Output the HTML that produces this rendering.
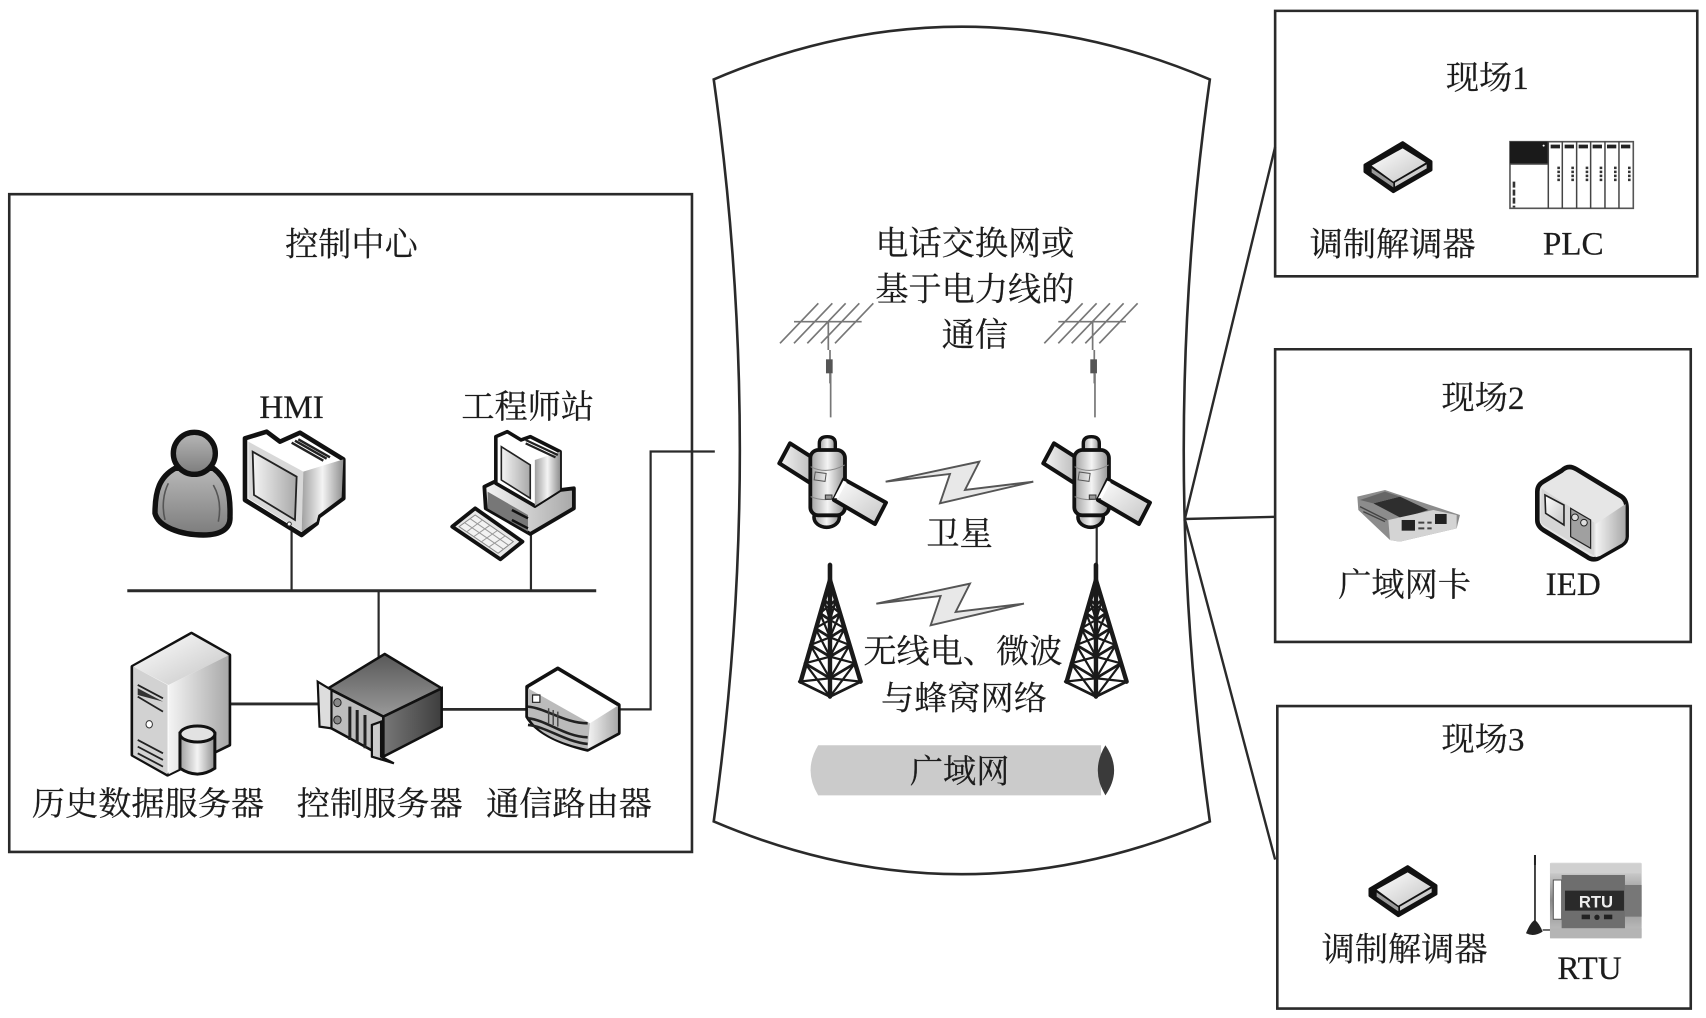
<!DOCTYPE html>
<html lang="zh"><head><meta charset="utf-8"><title>diagram</title>
<style>
html,body{margin:0;padding:0;background:#fff}
svg{display:block}
path,line,rect,ellipse,polygon,polyline,circle{vector-effect:non-scaling-stroke}
text{font-family:"Liberation Serif","Noto Serif CJK SC",serif;font-size:30.5px;fill:#1c1c1c;text-anchor:middle;stroke:#1c1c1c;stroke-width:.2px}
</style></head><body>
<svg width="1706" height="1018" viewBox="0 0 1706 1018" xmlns="http://www.w3.org/2000/svg">
<defs>
<linearGradient id="g1" x1="0" y1="0" x2="1" y2="1"><stop offset="0" stop-color="#fff"/><stop offset="1" stop-color="#c4c4c4"/></linearGradient>
<linearGradient id="g2" x1="0" y1="0" x2="1" y2="0"><stop offset="0" stop-color="#f4f4f4"/><stop offset="1" stop-color="#a8a8a8"/></linearGradient>
<linearGradient id="g3" x1="0" y1="0" x2="1" y2="0"><stop offset="0" stop-color="#a0a0a0"/><stop offset=".5" stop-color="#f4f4f4"/><stop offset="1" stop-color="#909090"/></linearGradient>
<linearGradient id="gp" x1="0" y1="0" x2="0" y2="1"><stop offset="0" stop-color="#b8b8b8"/><stop offset="1" stop-color="#7c7c7c"/></linearGradient>
<linearGradient id="gd" x1="0" y1="0" x2="0" y2="1"><stop offset="0" stop-color="#585858"/><stop offset="1" stop-color="#9a9a9a"/></linearGradient>
<linearGradient id="gr" x1="0" y1="0" x2="1" y2="0"><stop offset="0" stop-color="#777"/><stop offset="1" stop-color="#3e3e3e"/></linearGradient>
<linearGradient id="gm" x1="0" y1="0" x2="0" y2="1"><stop offset="0" stop-color="#e0e0e0"/><stop offset=".5" stop-color="#8a8a8a"/><stop offset="1" stop-color="#c8c8c8"/></linearGradient>
<g id="tower" fill="none" stroke="#1a1a1a" stroke-linecap="round">
 <path d="M390,855V950" stroke-width="4.6"/>
 <path d="M390,900L302,1205M390,900L482,1205M390,900V1250" stroke-width="4.4"/>
 <path d="M372,960L390,975L408,960M360,1000L390,1020L420,1000M346,1045L390,1072L434,1045M331,1095L390,1130L449,1095M315,1150L390,1195L465,1150M298,1205L390,1250L482,1205" stroke-width="2.8"/>
 <path d="M372,960L390,1020L408,960M360,1000L390,1072L420,1000M346,1045L390,1130L434,1045M331,1095L390,1195L449,1095M315,1150L390,1250L465,1150M360,1000L390,975L420,1000M346,1045L390,1020L434,1045M331,1095L390,1072L449,1095M315,1150L390,1130L465,1150M298,1205L390,1195L482,1205" stroke-width="2.2"/>
</g>
<g id="sat">
 <polygon points="270,490 238,550 340,615 372,555" fill="url(#g2)" stroke="#111" stroke-width="4" stroke-linejoin="round"/>
 <path d="M358,512V490Q358,470 382,470Q406,470 406,490V512Z" fill="url(#g3)" stroke="#111" stroke-width="3.4"/>
 <ellipse cx="380" cy="712" rx="38" ry="30" fill="url(#g3)" stroke="#111" stroke-width="3.6"/>
 <rect x="331" y="510" width="104" height="196" rx="24" fill="url(#g3)" stroke="#111" stroke-width="3.8"/>
 <path d="M332,560Q380,585 434,555M332,650Q380,670 434,645" fill="none" stroke="#888" stroke-width="1"/>
 <rect x="344" y="578" width="33" height="24" fill="none" stroke="#555" stroke-width="1" transform="rotate(8 360 590)"/>
 <rect x="376" y="645" width="20" height="13" fill="#999" stroke="#333" stroke-width="1"/>
 <polygon points="402,660 432,598 558,668 525,732" fill="url(#g1)" stroke="#111" stroke-width="4" stroke-linejoin="round"/>
 <polygon points="402,655 430,602 440,606 414,655" fill="#fff"/>
</g>
<g id="yagi" fill="none" stroke="#777" stroke-width="1.7">
 <path d="M282,125H485M355,70L240,190M397,70L282,190M437,70L322,190M478,70L363,190M520,70L405,190M385,125V210"/>
 <path d="M390,210V310M392,280V412"/>
 <rect x="378" y="238" width="20" height="42" fill="#555" stroke="none"/>
</g>
<path id="bolt" d="M557,605L838,545L795,630L1000,605L720,670L750,582Z" fill="#e8e8e8" stroke="#555" stroke-width="1.9"/>
<g id="modem">
 <path d="M428,428L315,495V515L400,575L513,510V485Z" fill="#111" stroke="#111" stroke-width="3" stroke-linejoin="round"/>
 <polygon points="428,445 335,497 400,545 497,488" fill="url(#g1)"/>
 <polygon points="335,505 400,550 400,562 335,518" fill="#999"/>
 <polygon points="405,548 500,493 500,505 405,560" fill="#ccc"/>
</g>
</defs>
<rect width="1706" height="1018" fill="#fff"/>

<g transform="scale(1.088)">
<g fill="none" stroke="#2a2a2a">
 <rect x="8.5" y="178.5" width="627.5" height="604.5" stroke-width="2.6"/>
 <rect x="1172" y="10" width="388" height="244" stroke-width="2.6"/>
 <rect x="1172" y="321" width="382" height="269" stroke-width="2.6"/>
 <rect x="1174" y="649" width="380" height="278" stroke-width="2.6"/>
 <path d="M656,73Q884,-24 1112,73Q1064,414 1112,755Q884,852 656,755Q704,414 656,73Z" stroke-width="2.6"/>
 <path d="M657,415H598V652H568" stroke-width="2.2"/>
 <path d="M1172,135L1089,477L1172,475M1089,477L1172,790" stroke-width="2.4"/>
 <path d="M117,543H548" stroke-width="3"/>
 <path d="M268,488V543M488,488V543M348,543V606" stroke-width="2.2"/>
 <path d="M212,647H295M405,652H485" stroke-width="2.8"/>
 <path d="M1008,484V530" stroke-width="2.2"/>
</g>
<path d="M752,685H1012V731H752Q738,708 752,685Z" fill="#cbcbcb"/>
<path d="M1016,685Q1032,708 1016,731Q1002,708 1016,685Z" fill="#3a3a3a"/>
</g>

<!-- person & HMI monitor -->
<g transform="translate(100,420) scale(.3333)">
 <path d="M225,145C180,170 165,210 165,280C175,320 240,345 310,345C365,345 392,325 390,290C392,215 380,175 340,145Z" fill="url(#gp)" stroke="#111" stroke-width="5.4" stroke-linejoin="round"/>
 <path d="M205,190C190,220 185,260 195,300M340,195C360,230 362,270 355,305" fill="none" stroke="#555" stroke-width="1.6"/>
 <circle cx="283" cy="100" r="63" fill="url(#gp)" stroke="#111" stroke-width="5.4"/>
 <path d="M435,55L500,35L540,65L600,38L730,118V235L655,290L650,310L605,345L435,240Z" fill="#fff" stroke="#111" stroke-width="4.6" stroke-linejoin="round"/>
 <polygon points="445,65 610,155 605,335 445,235" fill="#d8d8d8"/>
 <polygon points="458,95 590,170 585,300 462,225" fill="url(#g2)" stroke="#222" stroke-width="1.8"/>
 <polygon points="610,155 730,118 725,232 655,285 650,305 605,335" fill="url(#g3)"/>
 <path d="M575,68L670,122M585,62L680,116M595,58L690,112" stroke="#222" stroke-width="2.4" fill="none"/>
 <circle cx="568" cy="312" r="6" fill="#fff" stroke="#333" stroke-width="1"/>
</g>

<!-- other control center icons -->
<g transform="translate(0,380) scale(.4591,.3333)">
 <path d="M1055,320L1085,300L1165,378L1220,330L1250,325V385L1155,462L1058,385Z" fill="url(#g2)" stroke="#111" stroke-width="3.8" stroke-linejoin="round"/>
 <path d="M1062,335L1150,405V455L1062,385Z" fill="#777"/>
 <path d="M1115,390L1150,415M1115,420L1150,445" stroke="#111" stroke-width="2.5"/>
 <path d="M1080,170L1105,155L1135,180L1155,170L1220,215V330L1165,378L1080,310Z" fill="#fff" stroke="#111" stroke-width="3.6" stroke-linejoin="round"/>
 <polygon points="1165,240 1220,215 1220,330 1165,378" fill="url(#g3)"/>
 <polygon points="1092,200 1155,255 1155,355 1092,300" fill="url(#g2)" stroke="#222" stroke-width="1.6"/>
 <path d="M1145,180L1215,225M1145,190L1210,232" stroke="#222" stroke-width="2.2"/>
 <path d="M985,440L1035,385L1138,485L1090,538Z" fill="#e8e8e8" stroke="#111" stroke-width="3.8" stroke-linejoin="round"/>
 <path d="M1000,440L1035,405L1118,485L1085,520Z" fill="#f2f2f2" stroke="#888" stroke-width="1"/>
 <path d="M1012,428L1097,508M1024,416L1108,496M1016,456L1051,420M1032,470L1067,436M1048,486L1083,452M1064,502L1100,468" stroke="#999" stroke-width="1" fill="none"/>
 <path d="M417,760L288,860V1125L365,1185L500,1095V825Z" fill="#fff" stroke="#111" stroke-width="3.4" stroke-linejoin="round"/>
 <polygon points="417,763 290,860 367,915 498,826" fill="url(#g1)"/>
 <polygon points="367,915 498,826 498,1093 367,1183" fill="url(#g2)"/>
 <polygon points="290,860 365,915 365,1183 290,1125" fill="#d2d2d2"/>
 <path d="M300,915L355,955M300,950L355,995M300,1080L355,1120M300,1100L355,1140M300,1120L355,1160" stroke="#222" stroke-width="1.8"/>
 <path d="M300,925L355,965L300,945Z" fill="#333"/>
 <ellipse cx="325" cy="1033" rx="7" ry="11" fill="#fff" stroke="#333" stroke-width="1"/>
 <path d="M392,1060V1165Q430,1200 468,1165V1060Z" fill="url(#g3)" stroke="#111" stroke-width="3"/>
 <ellipse cx="430" cy="1062" rx="38" ry="24" fill="#e2e2e2" stroke="#111" stroke-width="3"/>
 <polygon points="838,822 715,925 835,1010 962,925" fill="url(#gd)" stroke="#111" stroke-width="2.6" stroke-linejoin="round"/>
 <polygon points="715,925 835,1010 835,1130 715,1040" fill="#bdbdbd" stroke="#111" stroke-width="2.6"/>
 <polygon points="835,1010 962,925 962,1040 835,1130" fill="url(#gr)" stroke="#111" stroke-width="2.6"/>
 <path d="M692,905L722,930V1045L696,1040Z" fill="#ddd" stroke="#111" stroke-width="2.2"/>
 <path d="M810,1035L830,1025V1130L858,1150L810,1130Z" fill="#ccc" stroke="#111" stroke-width="2.2"/>
 <path d="M762,980V1080M778,990V1090M795,1005V1105" stroke="#222" stroke-width="3"/>
 <ellipse cx="735" cy="968" rx="8" ry="12" fill="#888" stroke="#222" stroke-width="1"/>
 <ellipse cx="735" cy="1020" rx="8" ry="12" fill="#888" stroke="#222" stroke-width="1"/>
 <path d="M1215,865L1148,920V1010C1170,1060 1220,1090 1280,1110L1348,1060V975Z" fill="#fff" stroke="#111" stroke-width="3.6" stroke-linejoin="round"/>
 <polygon points="1285,1030 1346,977 1346,1058 1280,1107" fill="url(#g2)"/>
 <path d="M1150,925L1285,1030L1280,1107C1220,1090 1170,1060 1150,1008Z" fill="#bbb"/>
 <path d="M1150,980C1190,985 1230,1030 1280,1030M1150,1015C1190,1020 1230,1070 1280,1072M1150,1035C1190,1040 1230,1085 1280,1092" fill="none" stroke="#222" stroke-width="2.6"/>
 <rect x="1160" y="945" width="16" height="22" fill="#fff" stroke="#222" stroke-width="1.2"/>
 <path d="M1195,985V1030M1205,990V1035M1215,995V1040" stroke="#444" stroke-width="1.4"/>
</g>

<!-- center icons -->
<g transform="translate(700,280) scale(.3333)">
 <use href="#yagi"/><use href="#yagi" transform="translate(793,0)"/>
 <use href="#sat"/><use href="#sat" transform="translate(792,0)"/>
 <use href="#bolt"/><use href="#bolt" transform="translate(-28,366)"/>
 <use href="#tower"/><use href="#tower" transform="translate(798,0)"/>
</g>

<!-- site 1 -->
<g transform="translate(1260,0) scale(.3333)">
 <use href="#modem"/>
 <rect x="750" y="425" width="370" height="200" fill="#fff" stroke="#555" stroke-width="1.6"/>
 <rect x="750" y="425" width="115" height="67" fill="#1a1a1a"/>
 <path d="M750,492H865M865,425V625M907,425V625M950,425V625M992,425V625M1035,425V625M1077,425V625" stroke="#444" stroke-width="1.5" fill="none"/>
 <circle cx="851" cy="437" r="3" fill="#fff"/>
 <path d="M872,434h28v11h-28zM914,434h28v11h-28zM956,434h28v11h-28zM998,434h28v11h-28zM1041,434h28v11h-28zM1083,434h28v11h-28z" fill="#222"/>
 <path d="M896,500V548M938,500V548M981,500V548M1023,500V548M1066,500V548M1108,500V548" stroke="#333" stroke-width="2.6" stroke-dasharray="2.5 1.5" fill="none"/>
 <path d="M762,545V622" stroke="#333" stroke-width="2.6" stroke-dasharray="6 2" fill="none"/>
</g>

<!-- site 2 -->
<g transform="translate(1260,340) scale(.3333)">
 <polygon points="292,470 375,450 600,525 590,565 420,605 390,600 295,510" fill="#8c8c8c"/>
 <polygon points="340,490 420,470 505,510 425,535" fill="#2e2e2e"/>
 <polygon points="300,480 375,455 420,470 340,490" fill="#666"/>
 <path d="M300,500L380,540M310,515L375,545" stroke="#444" stroke-width="1.4"/>
 <polygon points="385,540 520,510 590,525 590,565 420,605 390,600" fill="#d4d4d4"/>
 <rect x="425" y="540" width="40" height="32" fill="#222"/>
 <rect x="525" y="522" width="35" height="30" fill="#222"/>
 <path d="M475,548h40M475,565h40" stroke="#444" stroke-width="2" stroke-dasharray="6 3"/>
 <path d="M905,392Q925,372 950,388L1085,470Q1100,480 1100,505V590Q1100,605 1085,615L1020,652Q1000,665 980,650L850,570Q832,558 832,540V455Q832,435 850,425Z" fill="#e6e6e6" stroke="#111" stroke-width="4.6" stroke-linejoin="round"/>
 <path d="M845,445L1003,548V648L850,555Q842,550 842,540Z" fill="#d6d6d6"/>
 <path d="M1007,552L1097,492V590Q1097,603 1085,611L1020,648L1007,652Z" fill="url(#g2)"/>
 <polygon points="855,465 912,495 912,555 857,520" fill="url(#g1)" stroke="#222" stroke-width="1.6"/>
 <polygon points="932,505 992,540 992,625 932,590" fill="#a0a0a0" stroke="#222" stroke-width="1.2"/>
 <circle cx="945" cy="532" r="10" fill="#ddd" stroke="#222" stroke-width="1"/>
 <circle cx="972" cy="548" r="10" fill="#ddd" stroke="#222" stroke-width="1"/>
</g>

<!-- site 3 -->
<g transform="translate(1260,700) scale(.3333)">
 <use href="#modem" transform="translate(15,72)"/>
 <rect x="870" y="488" width="275" height="227" rx="4" fill="url(#gm)"/>
 <rect x="870" y="490" width="275" height="30" fill="#d0d0d0"/>
 <rect x="880" y="540" width="25" height="118" fill="#fff" stroke="#555" stroke-width="1"/>
 <rect x="905" y="525" width="190" height="160" fill="#6e6e6e"/>
 <rect x="1095" y="555" width="50" height="95" fill="#777"/>
 <rect x="915" y="572" width="177" height="60" fill="#2a2a2a"/>
 <text x="1008" y="622" style="font-family:'Liberation Sans',sans-serif;font-weight:bold;font-size:50px;fill:#eee;stroke:none">RTU</text>
 <path d="M965,644h25v14h-25zM1032,644h25v14h-25z" fill="#222"/>
 <circle cx="1011" cy="652" r="8" fill="#222"/>
 <rect x="870" y="685" width="275" height="30" fill="#b4b4b4"/>
 <path d="M825,465V670" stroke="#333" stroke-width="1.8"/>
 <rect x="822" y="465" width="6" height="30" fill="#222"/>
 <path d="M798,700Q812,665 825,660Q838,670 848,695Q822,712 798,700Z" fill="#222"/>
 <path d="M848,690H870" stroke="#333" stroke-width="1.4"/>
</g>

<!-- labels -->
<g transform="scale(1.088)">
<text x="323" y="235">控制中心</text>
<text x="268" y="384">HMI</text>
<text x="485" y="384">工程师站</text>
<text x="136" y="749">历史数据服务器</text>
<text x="349" y="749">控制服务器</text>
<text x="523" y="749">通信路由器</text>
<text x="896" y="234">电话交换网或</text>
<text x="896" y="276">基于电力线的</text>
<text x="896" y="318">通信</text>
<text x="882" y="501">卫星</text>
<text x="885" y="609">无线电、微波</text>
<text x="886" y="652">与蜂窝网络</text>
<text x="882" y="719">广域网</text>
<text x="1367" y="82">现场1</text>
<text x="1280" y="235">调制解调器</text>
<text x="1446" y="234">PLC</text>
<text x="1363" y="376">现场2</text>
<text x="1291" y="548">广域网卡</text>
<text x="1446" y="547">IED</text>
<text x="1363" y="690">现场3</text>
<text x="1291" y="883">调制解调器</text>
<text x="1461" y="900">RTU</text>
</g>
</svg>
</body></html>
